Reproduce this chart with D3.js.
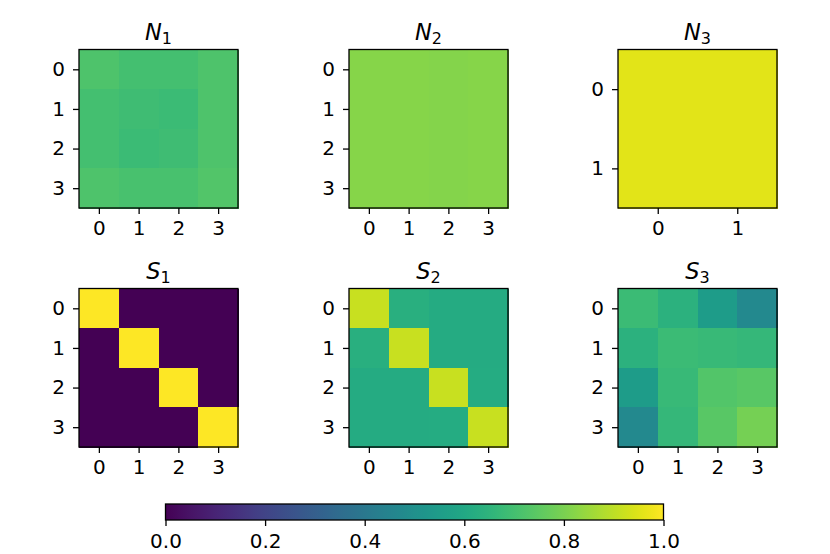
<!DOCTYPE html>
<html>
<head>
<meta charset="utf-8">
<script src="https://cdn.jsdelivr.net/npm/d3@7"></script>
<style>
  body { margin: 0; background: #fff; }
  svg { display: block; }
  text { font-family: "DejaVu Sans", sans-serif; }
</style>
</head>
<body>
<div id="chart"></div>
<script>
// matrix values (0..1)
var n1 = [
  [0.72, 0.70, 0.70, 0.72],
  [0.70, 0.69, 0.68, 0.72],
  [0.70, 0.68, 0.69, 0.72],
  [0.72, 0.71, 0.71, 0.73]
];
var n2 = [
  [0.82, 0.82, 0.815, 0.82],
  [0.82, 0.82, 0.815, 0.82],
  [0.82, 0.82, 0.815, 0.82],
  [0.82, 0.82, 0.815, 0.82]
];
var n3 = [
  [0.955, 0.955],
  [0.955, 0.955]
];
var s1 = [
  [1, 0, 0, 0],
  [0, 1, 0, 0],
  [0, 0, 1, 0],
  [0, 0, 0, 1]
];
var s2 = [
  [0.915, 0.63, 0.61, 0.61],
  [0.63, 0.915, 0.61, 0.61],
  [0.61, 0.61, 0.915, 0.615],
  [0.61, 0.61, 0.615, 0.915]
];
var s3 = [
  [0.68, 0.64, 0.55, 0.47],
  [0.64, 0.68, 0.675, 0.665],
  [0.55, 0.675, 0.73, 0.74],
  [0.47, 0.665, 0.74, 0.79]
];
var panelLetters = ['N', 'N', 'N', 'S', 'S', 'S'];
var panelSubs = ['1', '2', '3', '1', '2', '3'];
var panelData = [n1, n2, n3, s1, s2, s3];
var cbarTicks = [0, 0.2, 0.4, 0.6, 0.8, 1.0];

var width = 830, height = 554;
var svg = d3.select('#chart').append('svg')
  .attr('width', width).attr('height', height);

var colX = [79, 349, 618];
var rowY = [49.5, 288.5];
var boxW = 159, boxH = 158.5;
var color = d3.scaleSequential(d3.interpolateViridis).domain([0, 1]);

function styleAxis(a) {
  a.select('.domain').remove();
  a.selectAll('line').attr('stroke', '#000').attr('stroke-width', 1.3);
  a.selectAll('text').attr('font-size', 20).attr('fill', '#000')
    .attr('font-family', '"DejaVu Sans", sans-serif');
}

panelData.forEach(function (m, k) {
  var n = m.length;
  var x0 = colX[k % 3], y0 = rowY[Math.floor(k / 3)];
  var x = d3.scaleLinear().domain([-0.5, n - 0.5]).range([x0, x0 + boxW]);
  var y = d3.scaleLinear().domain([-0.5, n - 0.5]).range([y0, y0 + boxH]);
  var g = svg.append('g');

  var cells = [];
  m.forEach(function (row, i) {
    row.forEach(function (v, j) { cells.push({ r: i, c: j, v: v }); });
  });

  g.selectAll('rect.cell')
    .data(cells)
    .enter()
    .append('rect')
    .attr('class', 'cell')
    .attr('shape-rendering', 'crispEdges')
    .attr('x', function (d) { return x(d.c - 0.5); })
    .attr('y', function (d) { return y(d.r - 0.5); })
    .attr('width', function (d) { return x(d.c + 0.5) - x(d.c - 0.5) + 0.5; })
    .attr('height', function (d) { return y(d.r + 0.5) - y(d.r - 0.5) + 0.5; })
    .attr('fill', function (d) { return color(d.v); });

  var xAxis = g.append('g')
    .attr('transform', 'translate(0,' + (y0 + boxH) + ')')
    .call(d3.axisBottom(x).tickValues(d3.range(n)).tickSize(6).tickPadding(7).tickFormat(d3.format('d')));
  var yAxis = g.append('g')
    .attr('transform', 'translate(' + x0 + ',0)')
    .call(d3.axisLeft(y).tickValues(d3.range(n)).tickSize(6).tickPadding(8).tickFormat(d3.format('d')));
  styleAxis(xAxis);
  styleAxis(yAxis);

  g.append('rect')
    .attr('x', x0).attr('y', y0)
    .attr('width', boxW).attr('height', boxH)
    .attr('fill', 'none').attr('stroke', '#000').attr('stroke-width', 1.3);

  var t = g.append('text')
    .attr('x', x0 + boxW / 2).attr('y', y0 - 10)
    .attr('text-anchor', 'middle')
    .attr('font-size', 22.5);
  t.append('tspan').attr('font-style', 'italic').text(panelLetters[k]);
  t.append('tspan').attr('font-size', 16).attr('dy', 4).text(panelSubs[k]);
});

// colorbar
var cbX0 = 165.5, cbX1 = 663.5, cbY = 504, cbH = 16;
var cbScale = d3.scaleLinear().domain([0, 1]).range([cbX0, cbX1]);
var grad = svg.append('defs').append('linearGradient')
  .attr('id', 'viridis').attr('x1', '0%').attr('x2', '100%');
grad.selectAll('stop')
  .data(d3.range(0, 1.0001, 0.02))
  .enter()
  .append('stop')
  .attr('offset', function (d) { return (d * 100) + '%'; })
  .attr('stop-color', function (d) { return color(d); });

svg.append('rect')
  .attr('x', cbX0).attr('y', cbY)
  .attr('width', cbX1 - cbX0).attr('height', cbH)
  .attr('fill', 'url(#viridis)')
  .attr('stroke', '#000').attr('stroke-width', 1.3);

var cbAxis = svg.append('g')
  .attr('transform', 'translate(0,' + (cbY + cbH) + ')')
  .call(d3.axisBottom(cbScale).tickValues(cbarTicks).tickSize(6).tickPadding(8).tickFormat(d3.format('.1f')));
styleAxis(cbAxis);
</script>
</body>
</html>
